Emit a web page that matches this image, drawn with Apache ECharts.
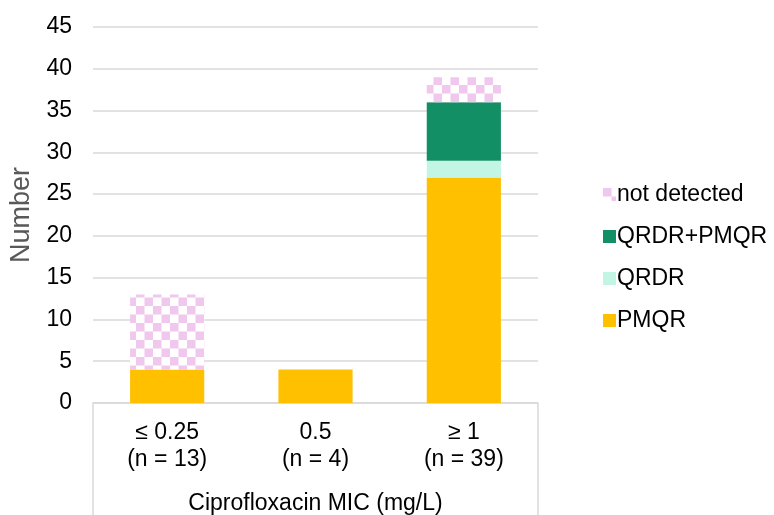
<!DOCTYPE html>
<html>
<head>
<meta charset="utf-8">
<script src="https://cdn.jsdelivr.net/npm/echarts@6/dist/echarts.min.js"></script>
<style>html,body{margin:0;padding:0;background:#fff;}#c{width:774px;height:515px;}</style>
</head>
<body>
<div id="c"></div>
<script>
const categories = ['≤ 0.25\n(n = 13)', '0.5\n(n = 4)', '≥ 1\n(n = 39)'];
const pmqr = [4, 4, 27];
const qrdr = [0, 0, 2];
const qrdrPmqr = [0, 0, 7];
const notDetected = [9, 0, 3];
const yTicks = [0, 5, 10, 15, 20, 25, 30, 35, 40, 45];

function checker() {
  const c = document.createElement('canvas');
  c.width = 17; c.height = 17;
  const g = c.getContext('2d');
  g.fillStyle = '#ffffff'; g.fillRect(0, 0, 17, 17);
  g.fillStyle = '#f0c8ee';
  g.fillRect(0, 0, 8.5, 8.5);
  g.fillRect(8.5, 8.5, 8.5, 8.5);
  return c;
}

const GL = 93, GR = 236, GT = 27, GB = 112;
const FS = 23;
const chart = echarts.init(document.getElementById('c'));
const font = 'Liberation Sans, Arial, sans-serif';
chart.setOption({
  animation: false,
  textStyle: { fontFamily: font },
  grid: { left: GL, right: GR, top: GT, bottom: GB, containLabel: false, outerBoundsMode: 'none' },
  legend: {
    orient: 'vertical', left: 598, top: 178,
    itemWidth: 13, itemHeight: 13, itemGap: 19, icon: 'rect',
    data: ['not detected', 'QRDR+PMQR', 'QRDR', 'PMQR'],
    textStyle: { fontSize: FS, color: '#000', fontFamily: font, padding: [0, 0, 0, -4] }
  },
  xAxis: {
    type: 'category', data: categories,
    axisLine: { lineStyle: { color: '#d9d9d9', width: 1.5 } },
    axisTick: { show: false },
    axisLabel: { fontSize: FS, color: '#000', lineHeight: 27, margin: 16, fontFamily: font },
    name: 'Ciprofloxacin MIC (mg/L)', nameLocation: 'middle', nameGap: 89,
    nameTextStyle: { fontSize: FS, color: '#000', fontFamily: font }
  },
  yAxis: {
    type: 'value', min: yTicks[0], max: yTicks[yTicks.length - 1], interval: 5,
    axisLine: { show: false }, axisTick: { show: false },
    splitLine: { lineStyle: { color: '#d9d9d9', width: 1.5 } },
    axisLabel: { fontSize: FS, color: '#000', margin: 21, fontFamily: font },
    name: 'Number', nameLocation: 'middle', nameGap: 57,
    nameTextStyle: { fontSize: 27, color: '#595959', fontFamily: font }
  },
  series: [
    { name: 'PMQR', type: 'bar', stack: 't', data: pmqr, barCategoryGap: '50%', itemStyle: { color: '#ffc000' } },
    { name: 'QRDR', type: 'bar', stack: 't', data: qrdr, itemStyle: { color: '#c2f5e4' } },
    { name: 'QRDR+PMQR', type: 'bar', stack: 't', data: qrdrPmqr, itemStyle: { color: '#138f65' } },
    { name: 'not detected', type: 'bar', stack: 't', data: notDetected, itemStyle: { color: { image: checker(), repeat: 'repeat' } } }
  ],
  graphic: [
    { type: 'line', shape: { x1: GL, y1: 515 - GB, x2: GL, y2: 515 }, style: { stroke: '#d9d9d9', lineWidth: 1.5 } },
    { type: 'line', shape: { x1: 774 - GR, y1: 515 - GB, x2: 774 - GR, y2: 515 }, style: { stroke: '#d9d9d9', lineWidth: 1.5 } }
  ]
});
</script>
</body>
</html>
